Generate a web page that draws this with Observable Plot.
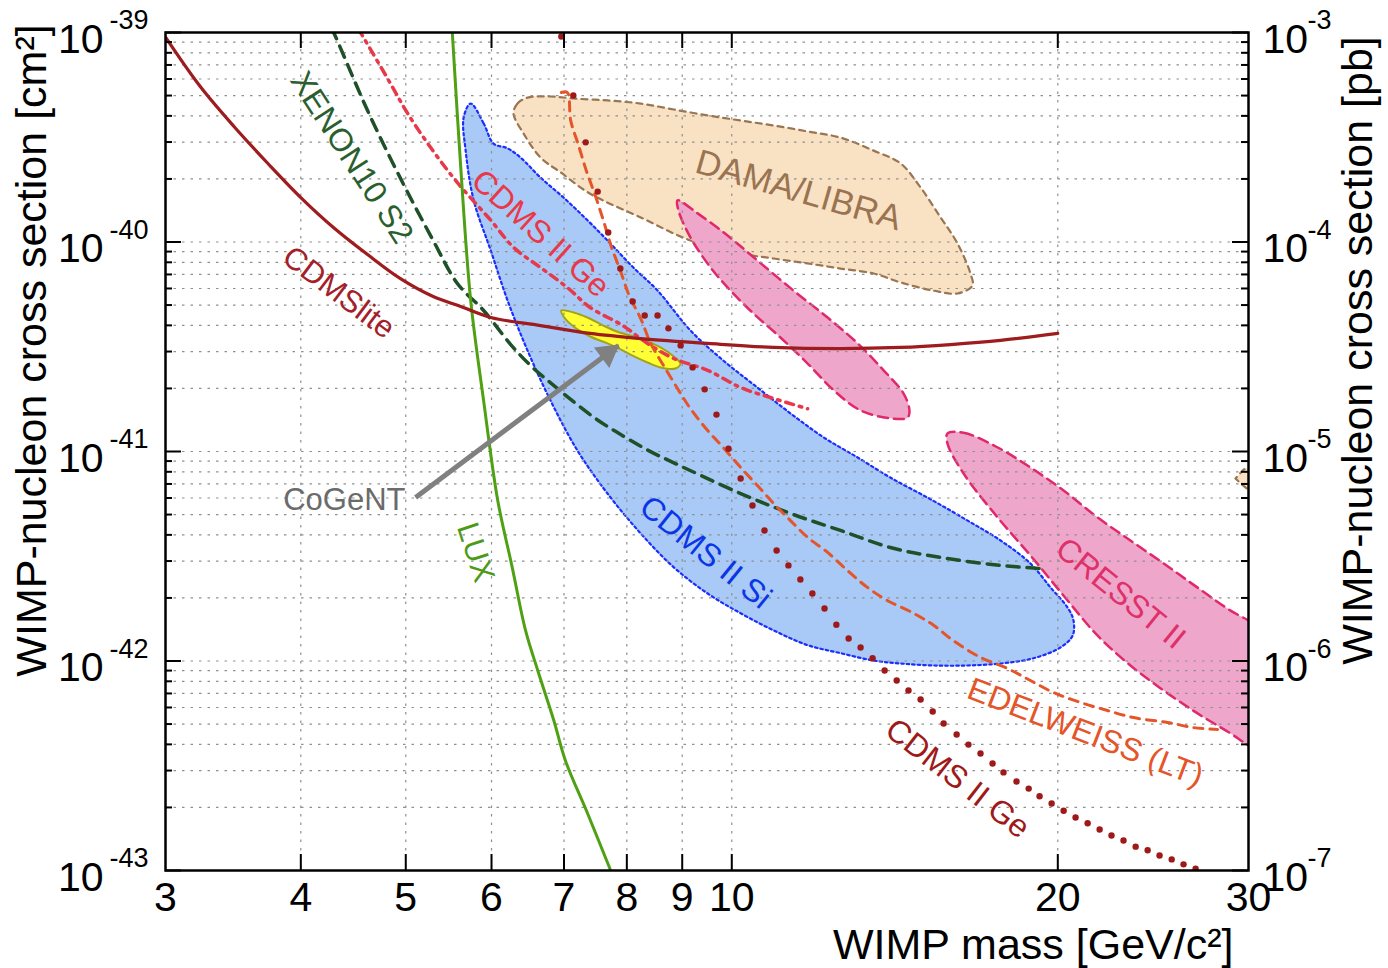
<!DOCTYPE html>
<html>
<head>
<meta charset="utf-8">
<script src="https://cdn.jsdelivr.net/npm/d3@7"></script>
<script src="https://cdn.jsdelivr.net/npm/@observablehq/plot@0.6"></script>
<style>
  html, body { margin: 0; padding: 0; background: #fff; }
  #chart svg { display: block; }
</style>
</head>
<body>
<div id="chart"></div>
<script>
// ---------------- DATA (mass in GeV/c^2, cross section in cm^2) ----------------
// CDMSlite limit (solid dark red)
const cdmsliteMass  = [3.0, 3.23, 3.47, 3.73, 4.0, 4.29, 4.61, 4.94, 5.3, 5.62, 5.99, 6.66, 7.4, 8.24, 9.5, 10.93, 12.6, 14.32, 15.92, 17.71, 20.0];
const cdmsliteSigma = [9.5e-40, 5.52e-40, 3.56e-40, 2.37e-40, 1.63e-40, 1.17e-40, 8.71e-41, 6.70e-41, 5.49e-41, 4.92e-41, 4.36e-41, 3.99e-41, 3.66e-41, 3.46e-41, 3.28e-41, 3.14e-41, 3.10e-41, 3.14e-41, 3.24e-41, 3.39e-41, 3.66e-41];

// LUX limit (solid green)
const luxMass  = [5.52, 5.62, 5.74, 5.90, 6.08, 6.27, 6.45, 6.62, 6.85, 7.02, 7.36, 7.73];
const luxSigma = [1e-39, 2.27e-40, 5.26e-41, 1.75e-41, 5.84e-42, 2.80e-42, 1.40e-42, 9.01e-43, 5.20e-43, 3.35e-43, 1.87e-43, 1e-43];

// XENON10 S2 limit (dashed dark green)
const xenonMass  = [4.27, 4.31, 4.61, 4.94, 5.30, 5.58, 5.90, 6.25, 6.52, 6.83, 7.48, 7.93, 8.38, 8.87, 10.19, 11.33, 12.60, 14.01, 15.59, 17.71, 19.36];
const xenonSigma = [1.05e-39, 9.47e-40, 4.24e-40, 2.03e-40, 1.017e-40, 6.34e-41, 4.71e-41, 3.24e-41, 2.57e-41, 2.09e-41, 1.44e-41, 1.19e-41, 1.01e-41, 8.76e-42, 6.30e-42, 5.06e-42, 4.20e-42, 3.48e-42, 3.12e-42, 2.86e-42, 2.76e-42];

// CDMS II Ge low-threshold limit (red dash-dot)
const geLtMass  = [4.52, 4.57, 4.84, 5.02, 5.27, 5.58, 5.99, 6.29, 6.66, 7.05, 7.40, 7.93, 8.36, 8.84, 9.50, 10.19, 10.93, 11.75];
const geLtSigma = [1.04e-39, 9.47e-40, 5.71e-40, 4.11e-40, 2.83e-40, 1.92e-40, 1.27e-40, 9.41e-41, 7.55e-41, 6.06e-41, 4.87e-41, 3.99e-41, 3.28e-41, 2.78e-41, 2.44e-41, 2.02e-41, 1.79e-41, 1.60e-41];

// EDELWEISS (LT) limit (dashed orange)
const edwMass  = [6.96, 7.05, 7.10, 7.22, 7.34, 7.48, 7.61, 7.74, 7.89, 8.04, 8.24, 8.41, 8.65, 8.91, 9.16, 9.50, 9.82, 10.19, 10.56, 10.93, 11.33, 11.75, 12.26, 12.79, 13.35, 13.93, 14.72, 15.36, 16.02, 16.97, 17.97, 18.87, 19.82, 20.99, 22.23, 23.49, 25.25, 26.69, 28.09];
const edwSigma = [5.17e-40, 5.17e-40, 3.80e-40, 2.89e-40, 2.19e-40, 1.67e-40, 1.27e-40, 9.52e-41, 7.31e-41, 5.55e-41, 4.31e-41, 3.31e-41, 2.57e-41, 2.00e-41, 1.60e-41, 1.26e-41, 1.045e-41, 8.39e-42, 6.88e-42, 5.65e-42, 4.68e-42, 3.89e-42, 3.30e-42, 2.70e-42, 2.24e-42, 1.94e-42, 1.69e-42, 1.48e-42, 1.25e-42, 1.04e-42, 9.21e-43, 8.07e-43, 7.07e-43, 6.34e-43, 5.80e-43, 5.37e-43, 5.09e-43, 4.81e-43, 4.71e-43];

// CDMS II Ge standard limit (dark red dots)
const geMass  = [6.96, 7.14, 7.33, 7.52, 7.69, 7.89, 8.10, 8.31, 8.54, 8.74, 8.97, 9.20, 9.44, 9.68, 9.93, 10.19, 10.45, 10.72, 11.00, 11.28, 11.57, 11.87, 12.18, 12.49, 12.82, 13.15, 13.49, 13.84, 14.20, 14.56, 14.94, 15.33, 15.69, 16.13, 16.54, 16.97, 17.41, 17.82, 18.32, 18.80, 19.24, 19.74, 20.25, 20.77, 21.31, 21.86, 22.42, 23.00, 23.60, 24.21, 24.83, 25.48, 26.13, 26.81, 27.50];
const geSigma = [9.57e-40, 5.00e-40, 2.99e-40, 1.74e-40, 1.11e-40, 7.47e-41, 5.20e-41, 4.46e-41, 4.46e-41, 3.87e-41, 3.21e-41, 2.52e-41, 1.98e-41, 1.50e-41, 1.03e-41, 7.43e-42, 5.52e-42, 4.20e-42, 3.37e-42, 2.86e-42, 2.45e-42, 2.10e-42, 1.78e-42, 1.49e-42, 1.28e-42, 1.16e-42, 1.03e-42, 9.01e-43, 8.07e-43, 7.23e-43, 6.55e-43, 5.74e-43, 5.03e-43, 4.46e-43, 3.99e-43, 3.62e-43, 3.24e-43, 2.94e-43, 2.66e-43, 2.46e-43, 2.26e-43, 2.09e-43, 1.93e-43, 1.79e-43, 1.68e-43, 1.57e-43, 1.47e-43, 1.39e-43, 1.30e-43, 1.25e-43, 1.18e-43, 1.13e-43, 1.07e-43, 1.02e-43, 9.7e-44];

// CDMS II Si allowed region (blue)
const siMass  = [5.740, 5.901, 6.026, 6.208, 6.382, 6.659, 6.993, 7.358, 7.727, 8.113, 8.539, 9.16, 9.82, 10.56, 11.33, 12.15, 13.07, 14.01, 15.33, 16.51, 17.71, 18.87, 19.70, 20.42, 20.68, 20.64, 20.11, 18.99, 17.71, 16.51, 15.33, 14.32, 13.52, 12.60, 11.75, 10.93, 10.19, 9.50, 8.84, 8.24, 7.678, 7.203, 6.802, 6.478, 6.208, 5.99, 5.777, 5.679, 5.655];
const siSigma = [4.58e-40, 3.68e-40, 2.95e-40, 2.80e-40, 2.53e-40, 2.03e-40, 1.63e-40, 1.27e-40, 9.83e-41, 7.55e-41, 5.87e-41, 3.78e-41, 2.72e-41, 2.02e-41, 1.52e-41, 1.17e-41, 9.36e-42, 7.51e-42, 5.84e-42, 4.68e-42, 3.76e-42, 2.92e-42, 2.24e-42, 1.80e-42, 1.56e-42, 1.32e-42, 1.16e-42, 1.03e-42, 9.73e-43, 9.52e-43, 9.52e-43, 9.73e-43, 1.005e-42, 1.09e-42, 1.19e-42, 1.40e-42, 1.69e-42, 2.10e-42, 2.80e-42, 4.06e-42, 6.30e-42, 1.01e-41, 1.75e-41, 3.03e-41, 5.26e-41, 9.11e-41, 1.58e-40, 2.73e-40, 3.93e-40];

// DAMA/LIBRA allowed regions (peach)
const damaMass  = [6.287, 6.341, 6.478, 6.802, 7.143, 7.678, 8.24, 8.84, 9.50, 10.19, 10.93, 11.75, 12.60, 13.52, 14.32, 14.85, 15.59, 16.16, 16.61, 16.68, 16.16, 15.33, 14.32, 13.52, 12.60, 11.75, 10.93, 10.19, 9.16, 8.24, 7.40, 6.949, 6.659, 6.422];
const damaSigma = [4.11e-40, 4.58e-40, 4.89e-40, 4.95e-40, 4.84e-40, 4.74e-40, 4.58e-40, 4.29e-40, 4.02e-40, 3.80e-40, 3.60e-40, 3.37e-40, 3.15e-40, 2.73e-40, 2.37e-40, 1.90e-40, 1.31e-40, 9.83e-41, 7.07e-41, 6.20e-41, 5.68e-41, 5.87e-41, 6.41e-41, 7.07e-41, 7.47e-41, 7.90e-41, 8.34e-41, 8.81e-41, 1.017e-40, 1.31e-40, 1.70e-40, 2.15e-40, 2.53e-40, 3.30e-40];
const dama2Mass  = [30.4, 29.69, 29.18, 29.58, 30.4];
const dama2Sigma = [8.6e-42, 8.20e-42, 7.43e-42, 6.96e-42, 6.2e-42];

// CRESST II allowed regions (pink)
const cresst1Mass  = [8.91, 9.30, 9.91, 10.56, 11.40, 12.26, 13.07, 13.81, 14.41, 14.59, 14.53, 14.01, 13.15, 12.42, 11.75, 11.09, 10.47, 9.97, 9.56, 9.16, 8.93];
const cresst1Sigma = [1.58e-40, 1.37e-40, 1.074e-40, 8.16e-41, 5.87e-41, 4.36e-41, 3.28e-41, 2.44e-41, 1.89e-41, 1.57e-41, 1.45e-41, 1.44e-41, 1.57e-41, 1.96e-41, 2.63e-41, 3.50e-41, 4.56e-41, 5.87e-41, 7.55e-41, 1.05e-40, 1.41e-40];
const cresst2Mass  = [15.82, 16.37, 17.60, 18.87, 20.25, 21.77, 23.34, 25.05, 26.92, 28.88, 30.0, 31.0, 31.0, 30.0, 28.88, 26.92, 25.05, 23.34, 21.77, 20.25, 18.87, 17.60, 16.37, 15.82];
const cresst2Sigma = [1.22e-41, 1.23e-41, 1.045e-41, 8.39e-42, 6.51e-42, 4.84e-42, 3.76e-42, 2.92e-42, 2.24e-42, 1.74e-42, 1.56e-42, 1.40e-42, 3.6e-43, 3.95e-43, 4.51e-43, 5.62e-43, 7.23e-43, 9.52e-43, 1.32e-42, 2.05e-42, 3.19e-42, 4.84e-42, 7.85e-42, 1.09e-41];

// CoGeNT allowed region (yellow)
const cogentMass  = [6.96, 7.143, 7.358, 7.61, 7.843, 8.24, 8.594, 8.84, 8.967, 8.872, 8.594, 8.36, 8.062, 7.893, 7.678, 7.40, 7.143, 6.993];
const cogentSigma = [4.71e-41, 4.61e-41, 4.36e-41, 3.99e-41, 3.73e-41, 3.46e-41, 3.14e-41, 2.84e-41, 2.63e-41, 2.49e-41, 2.52e-41, 2.66e-41, 2.90e-41, 3.07e-41, 3.28e-41, 3.54e-41, 3.95e-41, 4.41e-41];

// CoGeNT annotation arrow (tail -> head)
const cogentArrow = [{m1: 5.105, s1: 6.03e-42, m2: 7.86, s2: 3.21e-41}];

// Curve labels
const labelText  = ["XENON10 S2", "CDMSlite", "CDMS II Ge", "DAMA/LIBRA", "LUX", "CDMS II Si", "CRESST II", "EDELWEISS (LT)", "CDMS II Ge"];
const labelMass  = [4.456, 4.335, 6.659, 11.525, 5.80, 9.456, 22.85, 21.21, 16.16];
const labelSigma = [2.53e-40, 5.74e-41, 1.098e-40, 1.76e-40, 3.30e-42, 3.30e-42, 2.10e-42, 4.56e-43, 2.75e-43];
const labelAngle = [57, 37, 42, 16, 72, 39, 39, 21, 38];
const labelColor = ["#2B5E2E", "#A3202A", "#E8394A", "#9A7350", "#4E9A18", "#0B36E8", "#E0306A", "#E5552A", "#9E1A1A"];
const labelSize  = [32, 31, 32, 35, 31, 32, 32, 32, 32];
const cogentLabel = [{t: "CoGeNT", m: 4.997, s: 5.84e-42}];

// Axes
const xTicks = [4, 5, 6, 7, 8, 9, 10, 20];
const xLabelValues = [3, 4, 5, 6, 7, 8, 9, 10, 20, 30];
const xLabelText = ["3", "4", "5", "6", "7", "8", "9", "10", "20", "30"];
const yMajor = [1e-43, 1e-42, 1e-41, 1e-40, 1e-39];
const yExpLeft = ["-43", "-42", "-41", "-40", "-39"];
const yExpRight = ["-7", "-6", "-5", "-4", "-3"];
const xTitle = "WIMP mass [GeV/c²]";
const yTitleLeft = "WIMP-nucleon cross section [cm²]";
const yTitleRight = "WIMP-nucleon cross section [pb]";

// ---------------- CHART ----------------
const FONT = "'Liberation Sans', Arial, Helvetica, sans-serif";
const W = 1388, H = 968;
const M = {top: 32, right: 140, bottom: 98, left: 165};
const FW = W - M.left - M.right;
const FH = H - M.top - M.bottom;

const pts = (ms, ss) => ms.map((m, i) => ({m, s: ss[i]}));
const yMinor = [];
for (let e = -43; e < -39; e++) for (let k = 2; k <= 9; k++) yMinor.push(+(k + "e" + e));
const yGrid = yMinor.concat([1e-42, 1e-41, 1e-40]);
const yTickData = yMajor.map((v, i) => ({v, l: yExpLeft[i], r: yExpRight[i]}));
const labels = labelText.map((t, i) => ({t, m: labelMass[i], s: labelSigma[i], a: labelAngle[i], c: labelColor[i], f: labelSize[i]}));

const chart = Plot.plot({
  width: W, height: H,
  marginTop: M.top, marginRight: M.right, marginBottom: M.bottom, marginLeft: M.left,
  style: {fontFamily: FONT, background: "white", overflow: "visible"},
  x: {type: "log", domain: [3, 30], axis: null},
  y: {type: "log", domain: [1e-43, 1e-39], axis: null},
  marks: [
    // regions
    Plot.line(pts(siMass, siSigma), {x: "m", y: "s", curve: "catmull-rom-closed", fill: "#A9C9F6", stroke: "#1A2EFF", strokeWidth: 2.2, strokeDasharray: "2.5,3", clip: true}),
    Plot.line(pts(damaMass, damaSigma), {x: "m", y: "s", curve: "catmull-rom-closed", fill: "#F9E1C4", stroke: "#9A7550", strokeWidth: 2.2, strokeDasharray: "6,5", clip: true}),
    Plot.line(pts(dama2Mass, dama2Sigma), {x: "m", y: "s", curve: "linear-closed", fill: "#F9E1C4", stroke: "#9A7550", strokeWidth: 2.2, strokeDasharray: "6,5", clip: true}),
    Plot.line(pts(cresst1Mass, cresst1Sigma), {x: "m", y: "s", curve: "catmull-rom-closed", fill: "#EEA7CA", stroke: "#E0286A", strokeWidth: 2.5, strokeDasharray: "10,6", clip: true}),
    Plot.line(pts(cresst2Mass, cresst2Sigma), {x: "m", y: "s", curve: "catmull-rom-closed", fill: "#EEA7CA", stroke: "#E0286A", strokeWidth: 2.5, strokeDasharray: "10,6", clip: true}),
    Plot.line(pts(cogentMass, cogentSigma), {x: "m", y: "s", curve: "catmull-rom-closed", fill: "#FFFF33", stroke: "#A3A31A", strokeWidth: 2}),
    // grid
    Plot.ruleX(xTicks, {stroke: "#8f8f8f", strokeWidth: 1.2, strokeDasharray: "2.5,6"}),
    Plot.ruleY(yGrid, {stroke: "#8f8f8f", strokeWidth: 1.2, strokeDasharray: "2.5,6"}),
    // limit curves
    Plot.line(pts(xenonMass, xenonSigma), {x: "m", y: "s", curve: "catmull-rom", stroke: "#1E5128", strokeWidth: 3.5, strokeDasharray: "12,8", clip: true}),
    Plot.line(pts(geLtMass, geLtSigma), {x: "m", y: "s", curve: "catmull-rom", stroke: "#E8394A", strokeWidth: 3.5, strokeDasharray: "8,6,2.5,6", clip: true}),
    Plot.line(pts(edwMass, edwSigma), {x: "m", y: "s", curve: "catmull-rom", stroke: "#E5552A", strokeWidth: 3, strokeDasharray: "9,7", clip: true}),
    Plot.line(pts(luxMass, luxSigma), {x: "m", y: "s", curve: "catmull-rom", stroke: "#4FA012", strokeWidth: 3, clip: true}),
    Plot.line(pts(cdmsliteMass, cdmsliteSigma), {x: "m", y: "s", curve: "catmull-rom", stroke: "#9E1B1E", strokeWidth: 3.2, clip: true}),
    Plot.dot(pts(geMass, geSigma), {x: "m", y: "s", r: 3.2, fill: "#9E1A1A", stroke: "none", clip: true}),
    // CoGeNT arrow
    Plot.link(cogentArrow, {x1: "m1", y1: "s1", x2: "m2", y2: "s2", stroke: "#808080", strokeWidth: 5}),
    Plot.dot(cogentArrow, {x: "m2", y: "s2", symbol: "triangle", r: 9.5, rotate: 53, fill: "#808080", stroke: "none", dx: -11, dy: 8}),
    // labels
    ...labels.map(d => Plot.text([d], {x: "m", y: "s", text: "t", rotate: d.a, fill: d.c, fontSize: d.f})),
    Plot.text(cogentLabel, {x: "m", y: "s", text: "t", textAnchor: "end", fill: "#6B6B6B", fontSize: 31}),
    // ticks
    Plot.tickY(yMajor, {insetRight: FW - 16, strokeWidth: 2, stroke: "black"}),
    Plot.tickY(yMinor, {insetRight: FW - 7, strokeWidth: 2, stroke: "black"}),
    Plot.tickY(yMajor, {insetLeft: FW - 16, strokeWidth: 2, stroke: "black"}),
    Plot.tickY(yMinor, {insetLeft: FW - 7, strokeWidth: 2, stroke: "black"}),
    Plot.tickX(xTicks, {insetBottom: FH - 16, strokeWidth: 2, stroke: "black"}),
    Plot.tickX(xTicks, {insetTop: FH - 16, strokeWidth: 2, stroke: "black"}),
    Plot.frame({stroke: "black", strokeWidth: 2.5}),
    // tick labels
    Plot.text(yTickData, {y: "v", frameAnchor: "left", text: () => "10", textAnchor: "end", lineAnchor: "middle", dx: -62, dy: 7, fontSize: 41, fill: "black"}),
    Plot.text(yTickData, {y: "v", frameAnchor: "left", text: "l", textAnchor: "end", lineAnchor: "middle", dx: -17, dy: -12, fontSize: 27, fill: "black"}),
    Plot.text(yTickData, {y: "v", frameAnchor: "right", text: () => "10", textAnchor: "start", lineAnchor: "middle", dx: 14, dy: 7, fontSize: 41, fill: "black"}),
    Plot.text(yTickData, {y: "v", frameAnchor: "right", text: "r", textAnchor: "start", lineAnchor: "middle", dx: 59, dy: -12, fontSize: 27, fill: "black"}),
    Plot.text(xLabelValues, {x: d => d, frameAnchor: "bottom", text: (d, i) => xLabelText[i], textAnchor: "middle", lineAnchor: "middle", dy: 27, fontSize: 41, fill: "black"}),
    // axis titles
    Plot.text([yTitleLeft], {frameAnchor: "left", text: d => d, rotate: -90, textAnchor: "middle", lineAnchor: "middle", dx: -133, dy: -101, fontSize: 43, fill: "black"}),
    Plot.text([yTitleRight], {frameAnchor: "right", text: d => d, rotate: -90, textAnchor: "middle", lineAnchor: "middle", dx: 110, dy: -101, fontSize: 43, fill: "black"}),
    Plot.text([xTitle], {frameAnchor: "bottom-right", text: d => d, textAnchor: "end", lineAnchor: "middle", dx: -15, dy: 75, fontSize: 43, fill: "black"})
  ]
});
document.getElementById("chart").appendChild(chart);
</script>
</body>
</html>
